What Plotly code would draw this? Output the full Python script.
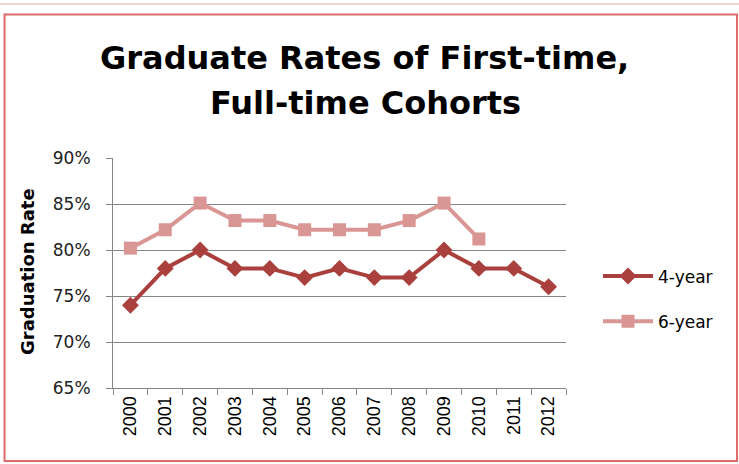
import plotly.graph_objects as go

years = ["2000", "2001", "2002", "2003", "2004", "2005", "2006", "2007", "2008", "2009", "2010", "2011", "2012"]
four_year = [0.74, 0.78, 0.80, 0.78, 0.78, 0.77, 0.78, 0.77, 0.77, 0.80, 0.78, 0.78, 0.76]
six_year = [0.802, 0.822, 0.851, 0.832, 0.832, 0.822, 0.822, 0.822, 0.832, 0.851, 0.812, None, None]
series_names = ["4-year", "6-year"]
title_lines = ["Graduate Rates of First-time,", "Full-time Cohorts"]
y_title = "Graduation Rate"

W, H = 739, 464
L, R, T, B = 113, 566, 158, 388

def px(x):
    return (x - L) / (R - L)

def py(y):
    return (B - y) / (B - T)

fig = go.Figure()
fig.add_trace(go.Scatter(
    x=years, y=four_year, name=series_names[0], mode="lines+markers",
    line=dict(color="#A9403E", width=4),
    marker=dict(symbol="diamond", size=13, color="#A9403E"),
    legendgroup="a",
))
fig.add_trace(go.Scatter(
    x=years, y=six_year, name=series_names[1], mode="lines+markers",
    line=dict(color="#D99694", width=4),
    marker=dict(symbol="square", size=13, color="#D99694"),
    legendgroup="b",
))

shapes = [
    dict(type="rect", xref="paper", yref="paper",
         x0=px(4.5), x1=px(737), y0=py(461), y1=py(14.5),
         line=dict(color="#E06A6A", width=2), layer="below"),
    dict(type="line", xref="paper", yref="paper",
         x0=px(0), x1=px(739), y0=py(4), y1=py(4),
         line=dict(color="#E8A9A9", width=1)),
]

annotations = [
    dict(text="<b>" + title_lines[0] + "</b>", xref="paper", yref="paper",
         x=px(364), y=py(58), xanchor="center", yanchor="middle",
         showarrow=False, font=dict(family="DejaVu Sans", size=32, color="#000000")),
    dict(text="<b>" + title_lines[1] + "</b>", xref="paper", yref="paper",
         x=px(365), y=py(103), xanchor="center", yanchor="middle",
         showarrow=False, font=dict(family="DejaVu Sans", size=32, color="#000000")),
    dict(text="<b>" + y_title + "</b>", xref="paper", yref="paper",
         x=px(27), y=py(272), xanchor="center", yanchor="middle", textangle=-90,
         showarrow=False, font=dict(family="DejaVu Sans", size=18, color="#000000")),
]

fig.update_layout(
    width=W, height=H,
    margin=dict(l=L, r=W - R, t=T, b=H - B, pad=0),
    paper_bgcolor="white", plot_bgcolor="white",
    showlegend=True,
    legend=dict(x=px(598), y=py(299), xanchor="left", yanchor="middle",
                font=dict(family="DejaVu Sans", size=17, color="#000000"),
                tracegroupgap=20, traceorder="grouped", itemwidth=50,
                bgcolor="rgba(0,0,0,0)"),
    shapes=shapes, annotations=annotations,
    xaxis=dict(type="category", categoryorder="array", categoryarray=years,
               tickson="boundaries", ticks="outside", ticklen=6, tickcolor="#868686",
               showline=True, linecolor="#868686", linewidth=1, showgrid=False,
               tickangle=-90, tickfont=dict(family="Liberation Sans", size=18, color="#000000"),
               range=[-0.5, 12.5]),
    yaxis=dict(range=[0.65, 0.90], dtick=0.05, tick0=0.65, tickformat=".0%",
               ticks="outside", ticklen=6, tickcolor="#868686",
               ticklabelstandoff=12,
               showline=True, linecolor="#868686", linewidth=1,
               showgrid=True, gridcolor="#868686", gridwidth=1,
               zeroline=False,
               tickfont=dict(family="DejaVu Sans", size=17, color="#222222")),
)

fig.write_html("out.html", config={"displayModeBar": False},
               post_script="document.body.style.margin='0';")
